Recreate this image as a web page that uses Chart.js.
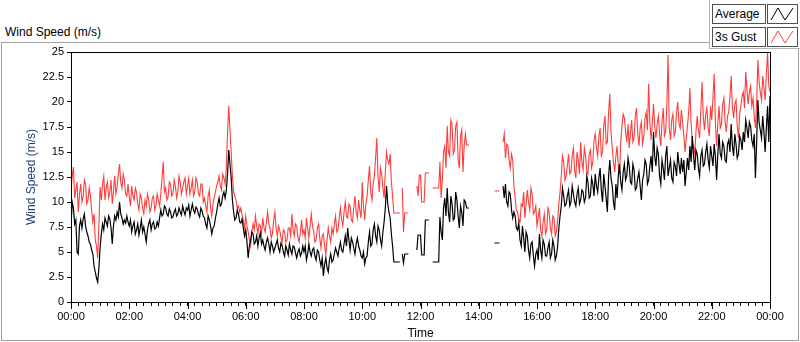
<!DOCTYPE html>
<html><head><meta charset="utf-8">
<script src="https://cdn.jsdelivr.net/npm/chart.js@4.4.1/dist/chart.umd.min.js"></script>
<style>
html,body{margin:0;padding:0;background:#fff;}
#wrap{position:relative;width:800px;height:342px;overflow:hidden;font-family:'Liberation Sans',Arial,sans-serif;}
#frame{position:absolute;left:1px;top:42px;width:796px;height:297px;border:1px solid #a0a0a0;}
#title{position:absolute;left:5px;top:25px;font-size:12px;line-height:14px;color:#000;white-space:nowrap;}
#legend{position:absolute;left:709px;top:0;width:91px;height:49px;box-sizing:border-box;border-left:1px solid #b4b4b4;border-bottom:1px solid #b4b4b4;background:#fff;}
.lbl{position:absolute;left:712px;width:54px;height:20px;box-sizing:border-box;border:1px solid #505050;font-size:12px;line-height:18px;padding-left:2px;color:#000;white-space:nowrap;background:#fff;}
.ico{position:absolute;left:767px;width:31px;height:20px;box-sizing:border-box;border:1px solid #505050;background:#fff;}
.ico svg{position:absolute;left:0;top:0;}
canvas{position:absolute;left:0;top:0;}
</style>
</head><body>
<div id="wrap">
  <div id="frame"></div>
  <div id="title">Wind Speed (m/s)</div>
  <div id="legend"></div>
  <div class="lbl" style="top:4px">Average</div>
  <div class="ico" style="top:4px"><svg width="29" height="18"><polyline points="3,15 10,3 17,15 25,3" fill="none" stroke="#000" stroke-width="1"/></svg></div>
  <div class="lbl" style="top:27px">3s Gust</div>
  <div class="ico" style="top:27px"><svg width="29" height="18"><polyline points="3,15 10,3 17,15 25,3" fill="none" stroke="#ff4040" stroke-width="1"/></svg></div>
  <canvas id="c" width="800" height="342"></canvas>
</div>
<script>
// sample interval (minutes) of the series below, starting at 00:00
const sampleMinutes = 2.5;
const seriesNames = ['Average', '3s Gust'];
const seriesColors = ['#000000', '#ff3c3c'];
const yTicks = [0, 2.5, 5, 7.5, 10, 12.5, 15, 17.5, 20, 22.5, 25];
const xLabelHours = ['00:00','02:00','04:00','06:00','08:00','10:00','12:00','14:00','16:00','18:00','20:00','22:00','00:00'];

// Average wind speed (m/s), one value per 2.5 minutes, one row per hour (null = no data)
const averageSpeed = [
  7.5, 10.0, 9.4, 7.8, 8.2, 5.0, 4.8, 7.6, 8.2, 7.4, 8.3, 8.8, 7.6, 7.0, 6.6, 6.0, 5.8, 5.2, 4.8, 3.6, 3.0, 2.4, 2.0, 3.4,
  5.5, 6.8, 7.8, 7.2, 8.4, 8.0, 7.6, 8.6, 8.3, 7.4, 5.8, 7.6, 8.6, 8.2, 9.0, 8.5, 10.0, 8.8, 8.4, 7.8, 8.2, 7.9, 8.6, 8.0,
  7.6, 8.2, 7.0, 7.6, 8.0, 6.8, 7.2, 7.8, 6.7, 7.4, 8.2, 7.0, 7.5, 6.8, 6.0, 7.2, 7.8, 8.2, 7.2, 7.8, 8.0, 7.3, 7.4, 8.0,
  7.6, 8.4, 9.2, 8.6, 8.8, 9.6, 9.4, 8.8, 8.6, 9.3, 9.0, 8.4, 8.5, 9.0, 9.3, 8.6, 8.8, 9.4, 9.0, 8.7, 9.6, 9.1, 8.7, 9.4,
  9.2, 9.7, 8.6, 9.2, 9.8, 9.2, 8.9, 9.5, 9.3, 8.8, 8.5, 9.4, 9.1, 8.6, 8.4, 7.8, 7.4, 8.6, 8.2, 7.6, 6.8, 7.4, 7.6, 8.4,
  9.0, 9.8, 10.4, 9.6, 9.8, 10.6, 11.0, 10.4, 11.2, 12.8, 15.2, 13.8, 12.4, 10.2, 9.0, 8.2, 8.4, 9.2, 8.8, 8.0, 7.9, 8.3, 7.4, 6.6,
  7.2, 6.0, 4.4, 5.6, 6.2, 7.0, 6.8, 5.8, 6.0, 6.6, 5.6, 6.4, 6.9, 5.8, 6.2, 5.6, 5.2, 6.0, 6.4, 5.8, 5.0, 6.0, 5.6, 5.0,
  5.4, 5.8, 6.2, 5.4, 5.0, 5.9, 5.6, 5.0, 4.6, 5.6, 5.2, 4.7, 5.8, 5.2, 4.8, 5.6, 5.5, 4.9, 4.4, 5.0, 5.3, 4.6, 4.9, 5.6,
  5.0, 5.6, 4.2, 4.8, 5.8, 5.0, 4.6, 5.2, 5.4, 4.6, 4.2, 5.2, 5.0, 4.2, 3.6, 4.4, 2.6, 3.8, 4.4, 3.4, 3.0, 4.2, 4.8, 4.0,
  4.2, 4.8, 5.4, 5.0, 4.6, 5.4, 6.0, 5.2, 5.0, 5.8, 6.6, 5.6, 7.4, 6.2, 5.2, 6.4, 6.0, 5.4, 4.8, 5.8, 6.4, 5.6, 5.2, 4.6,
  4.4, 5.0, 3.8, 4.4, 4.6, 6.0, 7.0, 5.6, 5.8, 7.2, 7.8, 6.6, 6.0, 7.6, 7.2, 6.2, 5.6, 7.0, 8.0, 9.4, 11.6, 9.8, 9.0, 8.4,
  6.8, 5.6, 4.0, 4.0, 4.0, 4.0, 4.0, 4.0, null, 4.8, 3.9, 4.8, 4.8, 4.8, 4.8, null, null, null, null, null, null, 5.2, 6.7, 6.7,
  6.7, 4.7, 4.7, 4.7, 8.2, 8.2, 8.2, 8.2, null, null, 4.0, 4.0, 4.0, 4.0, 4.0, 4.0, 8.5, 7.0, 6.2, 9.4, 10.4, 8.6, 11.4, 9.0,
  8.0, 10.6, 9.8, 8.2, 8.4, 11.0, 10.2, 8.6, 7.4, 9.6, 9.0, 7.6, 10.2, 10.0, 9.4, 9.4, 9.4, null, null, null, null, null, null, null,
  null, null, null, null, null, null, null, null, null, null, null, null, null, 5.9, 5.9, 5.9, 5.9, 5.9, null, null, 11.6, 10.4, 11.8, 10.0,
  9.6, 11.0, 10.8, 9.2, 8.4, 9.0, 8.6, 7.4, 7.2, 7.9, 6.2, 5.6, 7.6, 6.4, 5.0, 7.0, 6.6, 5.2, 4.4, 5.8, 6.0, 4.6, 3.6, 4.8,
  5.2, 4.2, 6.8, 5.2, 4.4, 6.2, 5.8, 4.6, 4.6, 5.4, 6.0, 4.4, 4.8, 6.2, 5.6, 4.2, 4.6, 5.6, 7.4, 8.6, 9.6, 11.4, 10.6, 9.6,
  9.8, 10.6, 11.2, 9.6, 10.0, 11.6, 10.8, 10.0, 9.6, 10.8, 11.4, 9.8, 10.2, 11.2, 11.0, 10.0, 10.4, 12.6, 12.0, 10.4, 10.6, 12.4, 11.8, 10.6,
  12.8, 11.6, 11.0, 12.4, 13.4, 11.2, 10.0, 12.8, 11.6, 10.4, 9.0, 12.6, 14.2, 12.4, 11.6, 10.0, 9.2, 11.8, 10.4, 12.6, 13.8, 12.0, 11.2, 13.0,
  13.8, 12.2, 12.6, 14.4, 13.6, 12.0, 11.8, 13.8, 13.2, 11.2, 11.4, 12.4, 13.0, 11.6, 10.2, 12.2, 12.8, 14.2, 13.8, 11.8, 12.2, 13.6, 14.6, 13.0,
  17.0, 14.6, 13.6, 15.4, 14.8, 12.6, 11.8, 14.2, 13.4, 12.2, 14.6, 15.6, 12.6, 13.4, 14.2, 12.4, 12.0, 14.0, 13.6, 12.6, 15.0, 13.8, 12.8, 14.4,
  13.0, 14.2, 11.6, 13.0, 14.4, 13.2, 15.6, 14.0, 16.6, 14.6, 13.2, 15.2, 14.8, 13.4, 12.6, 14.6, 15.2, 13.6, 13.8, 15.0, 15.8, 14.2, 13.4, 15.6,
  14.6, 13.6, 15.8, 14.6, 12.2, 14.8, 16.8, 14.8, 14.4, 16.0, 15.6, 14.2, 14.0, 15.8, 16.2, 15.0, 17.8, 15.6, 14.6, 16.8, 15.8, 14.4, 14.8, 16.6,
  16.2, 15.2, 17.0, 16.0, 18.2, 17.4, 16.4, 18.0, 17.6, 16.2, 15.6, 16.8, 12.4, 16.0, 20.2, 18.0, 17.2, 16.4, 18.6, 17.0, 15.0, 17.4, 19.6, 16.0,
  20.6
];

// 3 s gust wind speed (m/s), one value per 2.5 minutes, one row per hour (null = no data)
const gustSpeed = [
  11.0, 12.6, 13.5, 10.4, 11.2, 12.0, 9.0, 10.8, 11.8, 10.0, 10.5, 12.2, 11.8, 9.8, 10.2, 11.4, 10.6, 9.2, 8.0, 8.8, 6.2, 5.6, 4.4, 7.8,
  11.5, 10.2, 11.8, 12.6, 10.2, 11.4, 12.0, 10.4, 11.0, 12.2, 9.8, 11.0, 12.6, 10.8, 11.5, 12.8, 13.8, 12.0, 11.4, 12.8, 12.2, 10.8, 10.6, 11.8,
  10.5, 9.6, 11.6, 10.6, 10.2, 11.4, 11.0, 9.8, 9.2, 10.8, 10.4, 9.4, 8.8, 10.2, 9.6, 10.8, 10.2, 9.0, 9.4, 10.4, 10.6, 9.2, 9.6, 10.8,
  10.2, 9.6, 10.8, 12.4, 14.0, 11.0, 11.4, 10.2, 10.5, 12.0, 11.8, 10.6, 10.8, 12.2, 11.6, 10.4, 11.0, 12.6, 12.0, 10.8, 11.4, 12.0, 12.4, 10.8,
  11.6, 12.4, 10.8, 11.4, 12.2, 10.6, 11.0, 12.4, 12.0, 10.8, 10.6, 11.8, 11.8, 10.0, 10.4, 9.6, 9.0, 10.6, 11.2, 9.4, 8.6, 9.8, 10.4, 11.0,
  11.6, 12.0, 12.6, 11.6, 11.2, 12.8, 12.4, 11.8, 13.4, 17.0, 19.6, 17.2, 15.0, 12.6, 11.0, 10.6, 10.2, 9.4, 9.6, 9.0, 9.4, 8.6, 8.2, 7.4,
  8.6, 7.6, 7.0, 6.2, 5.6, 7.0, 7.8, 7.2, 8.6, 7.6, 6.8, 7.8, 7.6, 6.8, 8.4, 7.4, 7.0, 8.0, 9.0, 7.8, 7.4, 6.4, 6.8, 8.2,
  9.0, 7.4, 6.6, 7.6, 7.2, 6.4, 6.0, 7.2, 7.0, 6.0, 6.2, 7.4, 7.4, 6.6, 8.8, 7.2, 6.6, 7.8, 7.6, 6.4, 6.0, 7.0, 8.2, 6.8,
  7.2, 6.4, 8.4, 7.4, 6.4, 7.6, 8.8, 7.6, 7.0, 6.0, 6.2, 7.4, 7.8, 6.4, 5.4, 6.6, 6.8, 5.6, 4.8, 6.2, 7.4, 6.6, 6.0, 7.4,
  6.8, 7.8, 8.6, 7.0, 7.2, 8.4, 9.4, 8.2, 7.6, 9.0, 10.0, 8.6, 8.4, 9.8, 9.6, 8.2, 8.0, 9.4, 10.6, 9.0, 8.4, 10.2, 9.2, 8.4,
  12.0, 9.6, 8.2, 9.8, 10.6, 12.2, 13.6, 11.0, 10.2, 11.8, 12.6, 14.4, 16.4, 12.6, 11.0, 13.4, 12.8, 11.4, 10.4, 13.0, 15.0, 14.2, 13.8, 14.8,
  12.0, 10.6, 8.9, 8.9, 8.9, 8.9, 8.9, 8.9, null, 11.4, 7.0, 8.9, 8.9, 8.9, 8.9, null, null, null, null, null, null, 11.6, 10.6, 12.7,
  12.7, 10.0, 10.0, 10.0, 12.9, 12.9, 12.9, 12.9, null, null, 11.4, 11.4, 11.4, 11.4, 11.4, 11.4, 14.0, 10.4, 12.2, 15.0, 15.6, 13.4, 17.6, 15.0,
  14.6, 18.2, 17.8, 14.8, 15.2, 17.6, 18.0, 14.2, 13.4, 16.6, 17.2, 13.0, 15.6, 16.8, 15.7, 15.7, 15.7, null, null, null, null, null, null, null,
  null, null, null, null, null, null, null, null, null, null, null, null, null, 11.1, 11.1, 11.1, 11.1, 11.1, null, null, 16.0, 16.8, 14.4, 15.8,
  15.6, 14.2, 13.4, 14.8, 14.2, 11.6, 10.4, 9.2, 9.0, 8.2, 8.0, 9.8, 9.6, 11.0, 8.4, 9.8, 11.2, 10.0, 9.2, 11.4, 10.8, 8.8, 9.0, 9.6,
  7.6, 8.4, 9.4, 7.2, 6.6, 8.0, 8.8, 6.8, 7.2, 9.4, 9.0, 7.4, 6.8, 8.6, 8.4, 6.6, 7.0, 8.2, 9.8, 11.0, 12.6, 14.6, 14.0, 12.2,
  12.6, 13.6, 14.8, 12.8, 13.0, 14.6, 15.4, 13.2, 12.4, 15.0, 14.2, 12.8, 16.0, 14.0, 13.2, 15.4, 14.6, 13.0, 12.8, 14.8, 15.2, 13.4, 14.0, 16.2,
  16.8, 15.4, 14.6, 16.6, 17.4, 14.6, 15.0, 17.6, 18.6, 15.8, 16.0, 19.0, 20.8, 17.0, 15.4, 14.0, 13.0, 14.6, 15.6, 13.6, 12.8, 16.0, 17.6, 18.8,
  18.4, 17.0, 16.0, 17.8, 15.4, 16.8, 18.2, 16.0, 16.4, 18.6, 19.4, 16.8, 15.6, 17.4, 18.0, 15.8, 16.6, 18.4, 19.0, 17.2, 21.8, 18.0, 16.2, 17.8,
  19.8, 17.6, 16.4, 17.8, 18.6, 16.8, 15.6, 18.0, 19.4, 16.6, 17.0, 19.6, 24.7, 17.4, 16.2, 18.2, 18.8, 16.6, 17.0, 19.0, 20.0, 17.8, 17.4, 19.2,
  18.0, 16.6, 15.0, 16.4, 17.6, 19.0, 21.4, 17.8, 16.0, 15.6, 14.8, 17.0, 18.6, 17.2, 16.4, 19.2, 22.0, 18.6, 17.2, 18.8, 19.4, 17.4, 16.6, 19.6,
  18.2, 20.4, 22.8, 18.0, 15.6, 17.8, 19.6, 17.4, 17.8, 19.8, 20.4, 18.0, 17.0, 18.6, 19.0, 20.6, 22.6, 19.6, 18.4, 19.8, 20.2, 17.6, 16.4, 18.8,
  19.6, 20.6, 21.0, 19.4, 23.0, 21.2, 19.8, 21.0, 21.6, 19.6, 20.4, 18.6, 17.4, 20.0, 24.2, 22.0, 21.0, 20.2, 22.6, 21.4, 20.2, 22.8, 25.0, 21.6,
  21.0
];

const toPoints = arr => arr.map((v, i) => ({x: i * sampleMinutes, y: v}));

const framePlugin = {
  id: 'plotFrame',
  afterDraw(chart) {
    const {ctx, chartArea: a} = chart;
    const x = chart.scales.x;
    ctx.save();
    ctx.strokeStyle = '#000';
    ctx.lineWidth = 1;
    ctx.strokeRect(Math.round(a.left) + 0.5, Math.round(a.top) + 0.5,
                   Math.round(a.right - a.left), Math.round(a.bottom - a.top));
    ctx.beginPath();
    for (const t of x.ticks) {
      if (t.value % 120 === 0) {
        const px = Math.round(x.getPixelForValue(t.value)) + 0.5;
        ctx.moveTo(px, a.bottom + 1);
        ctx.lineTo(px, a.bottom + 7);
      }
    }
    ctx.stroke();
    ctx.restore();
  }
};

new Chart(document.getElementById('c'), {
  type: 'line',
  data: {
    datasets: [
      {label: seriesNames[0], data: toPoints(averageSpeed), borderColor: seriesColors[0], borderWidth: 1.2},
      {label: seriesNames[1], data: toPoints(gustSpeed), borderColor: seriesColors[1], borderWidth: 1.1}
    ]
  },
  options: {
    responsive: false,
    animation: false,
    events: [],
    layout: {padding: {left: 0, top: 52, right: 30, bottom: 0}},
    elements: {
      line: {stepped: false, tension: 0, fill: false, borderJoinStyle: 'miter'},
      point: {radius: 0}
    },
    spanGaps: false,
    plugins: {legend: {display: false}, tooltip: {enabled: false}, title: {display: false}},
    scales: {
      x: {
        type: 'linear', min: 0, max: 1440,
        afterFit: s => { s.height = 40; },
        ticks: {
          stepSize: 15, autoSkip: false, maxRotation: 0, minRotation: 0,
          padding: 4, color: '#000',
          font: {family: "'Liberation Sans', Arial, sans-serif", size: 11},
          callback: v => (v % 120 === 0 ? xLabelHours[v / 120] : '')
        },
        grid: {drawOnChartArea: false, drawTicks: true, tickLength: 4, color: '#000', tickColor: '#000'},
        border: {display: true, color: '#000'},
        title: {display: true, text: 'Time', color: '#000', padding: {top: 0, bottom: 1},
                font: {family: "'Liberation Sans', Arial, sans-serif", size: 12}}
      },
      y: {
        type: 'linear', min: 0, max: 25,
        afterFit: s => { s.width = 71; },
        afterBuildTicks: s => { s.ticks = yTicks.map(v => ({value: v})); },
        ticks: {
          padding: 3, color: '#000',
          font: {family: "'Liberation Sans', Arial, sans-serif", size: 11}
        },
        grid: {drawOnChartArea: false, drawTicks: true, tickLength: 4, color: '#000', tickColor: '#000'},
        border: {display: true, color: '#000'},
        title: {display: true, text: 'Wind Speed (m/s)', color: '#1f3f73', padding: {top: 24, bottom: 0},
                font: {family: "'Liberation Sans', Arial, sans-serif", size: 12}}
      }
    }
  },
  plugins: [framePlugin]
});
</script>
</body></html>
